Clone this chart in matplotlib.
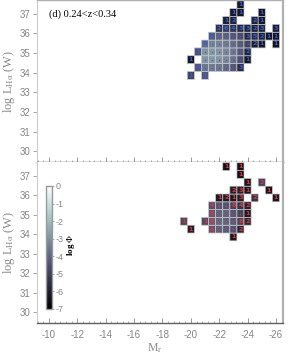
import numpy as np
import matplotlib
matplotlib.use("Agg")
import matplotlib.pyplot as plt
from matplotlib.ticker import MultipleLocator

plt.rcParams['mathtext.fontset'] = 'stix'
plt.rcParams['axes.unicode_minus'] = False

# panel (d) 0.24<z<0.34 -- cells: absolute magnitude, log L_Halpha, galaxy count, log Phi
# top panel
top_mag = [-23.5,
           -23.0, -23.5, -25.0,
           -22.5, -23.0, -24.5, -25.0,
           -22.0, -22.5, -23.0, -23.5, -24.0, -24.5, -25.0, -26.0,
           -21.5, -22.0, -22.5, -23.0, -23.5, -24.0, -24.5, -25.0, -25.5, -26.0,
           -21.0, -21.5, -22.0, -22.5, -23.0, -23.5, -24.0, -24.5, -25.0, -26.0,
           -20.5, -21.0, -21.5, -22.0, -22.5, -23.0, -23.5, -24.0,
           -20.0, -21.0, -21.5, -22.0, -22.5, -23.0, -23.5, -24.0,
           -20.5, -21.0, -21.5, -22.0, -22.5, -23.0, -23.5,
           -20.0, -21.0]
top_lum = [37.46] * 1 + [37.06] * 3 + [36.66] * 4 + [36.26] * 8 + [35.86] * 10 + \
          [35.46] * 10 + [35.06] * 8 + [34.66] * 8 + [34.26] * 7 + [33.86] * 2
top_n = [1,
         1, 1, 1,
         1, 2, 2, 1,
         2, 6, 4, 3, 3, 2, 3, 3,
         8, 15, 20, 20, 15, 3, 5, 2, 1, 1,
         9, 20, 30, 30, 25, 20, 12, 2, 1, 1,
         2, 15, 30, 35, 30, 25, 15, 2,
         1, 12, 25, 30, 30, 20, 12, 1,
         4, 10, 15, 15, 12, 10, 3,
         1, 2]
top_phi = [-6.3,
           -6.2, -6.3, -6.3,
           -6.0, -5.9, -5.9, -6.3,
           -5.4, -5.2, -5.4, -5.7, -5.8, -6.0, -5.9, -6.1,
           -4.2, -4.0, -4.1, -4.3, -4.6, -5.7, -5.6, -6.0, -6.3, -6.4,
           -3.8, -3.3, -3.3, -3.5, -3.8, -4.2, -4.8, -6.0, -6.3, -6.4,
           -4.5, -2.9, -2.8, -2.9, -3.2, -3.6, -4.3, -5.9,
           -6.3, -2.9, -2.8, -2.9, -3.2, -3.7, -4.5, -6.3,
           -4.3, -3.6, -3.5, -3.6, -3.9, -4.3, -5.6,
           -4.8, -4.3]

# bottom panel
bot_mag = [-22.5, -23.5,
           -23.5,
           -24.0, -25.0,
           -23.0, -23.5, -24.0, -25.5,
           -22.0, -22.5, -23.0, -23.5, -24.5, -26.0,
           -21.5, -22.0, -22.5, -23.0, -23.5, -24.0,
           -21.5, -22.0, -22.5, -23.0, -23.5, -24.0,
           -19.5, -21.0, -21.5, -22.0, -22.5, -23.0, -23.5, -24.0,
           -20.0, -21.5, -22.0, -22.5, -23.0, -23.5,
           -23.0]
bot_lum = [37.46] * 2 + [37.06] * 1 + [36.66] * 2 + [36.26] * 4 + [35.86] * 6 + \
          [35.46] * 6 + [35.06] * 6 + [34.66] * 8 + [34.26] * 6 + [33.86] * 1
bot_n = [1, 1,
         1,
         1, 2,
         2, 3, 1, 1,
         1, 2, 1, 3, 2, 1,
         4, 12, 10, 8, 4, 2,
         8, 15, 15, 12, 10, 1,
         1, 1, 8, 15, 15, 12, 8, 2,
         1, 6, 12, 12, 10, 2,
         1]
bot_phi = [-6.4, -6.4,
           -6.4,
           -6.3, -4.9,
           -6.0, -6.0, -6.3, -6.3,
           -6.1, -6.0, -6.2, -6.0, -5.4, -6.3,
           -4.5, -4.3, -4.4, -4.8, -5.3, -5.9,
           -4.2, -4.0, -4.0, -4.3, -4.8, -6.1,
           -4.8, -4.6, -4.1, -3.9, -4.0, -4.2, -4.8, -5.7,
           -6.0, -4.3, -4.1, -4.2, -4.4, -5.7,
           -6.2]

m_edges = np.arange(-19.25, -26.26, -0.5)
l_edges = np.arange(33.66, 37.67, 0.4)

fig = plt.figure(figsize=(3.02, 3.54), dpi=100)
ax1 = fig.add_axes([0.1225, 0.5424, 0.8146, 0.4576])
ax2 = fig.add_axes([0.1225, 0.0876, 0.8146, 0.4548])

tick_gray = '#858585'


def draw_panel(ax, mag, lum, n, phi, txtcolor):
    grid = np.full((len(l_edges) - 1, len(m_edges) - 1), np.nan)
    for m, l, p in zip(mag, lum, phi):
        i = int(round((l - 33.86) / 0.4))
        j = int(round((-19.5 - m) / 0.5))
        grid[i, j] = p
    pc = ax.pcolor(m_edges, l_edges, np.ma.masked_invalid(grid), cmap='bone',
                   vmin=-7, vmax=0, edgecolors='#c8c8c8', linewidth=0.5)
    for m, l, k in zip(mag, lum, n):
        if k < 10:
            ax.text(m, l, str(k), color=txtcolor, fontsize=4.6, fontweight='bold',
                    ha='center', va='center', family='DejaVu Sans')
        else:
            ax.scatter(m, l, s=1.0, color=txtcolor, linewidths=0)
    ax.set_xlim(-9.15, -26.5)
    ax.set_ylim(29.45, 37.7)
    ax.xaxis.set_major_locator(MultipleLocator(2))
    ax.xaxis.set_minor_locator(MultipleLocator(0.4))
    ax.yaxis.set_major_locator(MultipleLocator(1))
    ax.tick_params(axis='x', which='major', direction='in', length=3.5, color='#888888', width=0.6,
                   labelsize=7, labelcolor=tick_gray, pad=5)
    ax.tick_params(axis='x', which='minor', direction='in', length=1.8, color='#888888', width=0.5)
    ax.tick_params(axis='y', direction='out', length=3, color='#999999', width=0.6,
                   labelsize=7, labelcolor=tick_gray, pad=1.5)
    for lab in ax.get_xticklabels() + ax.get_yticklabels():
        lab.set_family('Liberation Sans')
    ax.spines['left'].set_color('#cccccc')
    ax.spines['left'].set_linewidth(0.8)
    ax.spines['right'].set_color('#b0b0b0')
    ax.spines['right'].set_linewidth(1.6)
    ax.spines['top'].set_color('#b0b0b0')
    ax.spines['top'].set_linewidth(1.0)
    ax.spines['bottom'].set_color('#606060')
    ax.spines['bottom'].set_linewidth(1.0)
    ax.set_ylabel(r'log L$_{\rm H\alpha}$ (W)', family='Liberation Serif',
                  fontsize=9, color='#8a8a8a')
    ax.yaxis.set_label_coords(-0.083, 0.5)
    return pc


draw_panel(ax1, top_mag, top_lum, top_n, top_phi, '#2a5ee8')
pc = draw_panel(ax2, bot_mag, bot_lum, bot_n, bot_phi, '#ee3030')

ax1.tick_params(axis='x', labelbottom=False)
ax2.spines['top'].set_visible(False)

ax1.text(0.049, 0.914, '(d) 0.24<z<0.34', transform=ax1.transAxes,
         family='Liberation Serif', fontsize=7.5, ha='left', va='center')

ax2.set_xlabel(r'M$_{\rm r}$', family='Liberation Serif', fontsize=8.5, color='#8a8a8a')
ax2.xaxis.set_label_coords(0.48, -0.112)
ax2.xaxis.label.set_va('top')

cax = ax2.inset_axes([0.037, 0.087, 0.024, 0.764])
cb = fig.colorbar(pc, cax=cax)
cb.set_ticks(range(-7, 1))
cb.ax.tick_params(labelsize=6.5, labelcolor=tick_gray, length=1.5, color='#888888', width=0.5, pad=1)
for lab in cb.ax.get_yticklabels():
    lab.set_family('Liberation Sans')
cb.outline.set_edgecolor('#999999')
cb.outline.set_linewidth(1.0)
ax2.text(0.138, 0.484, r'log $\Phi$', transform=ax2.transAxes, rotation=90,
         fontsize=6.5, fontweight='bold', family='Liberation Serif', ha='center', va='center')

fig.savefig('out.png', dpi=100)
